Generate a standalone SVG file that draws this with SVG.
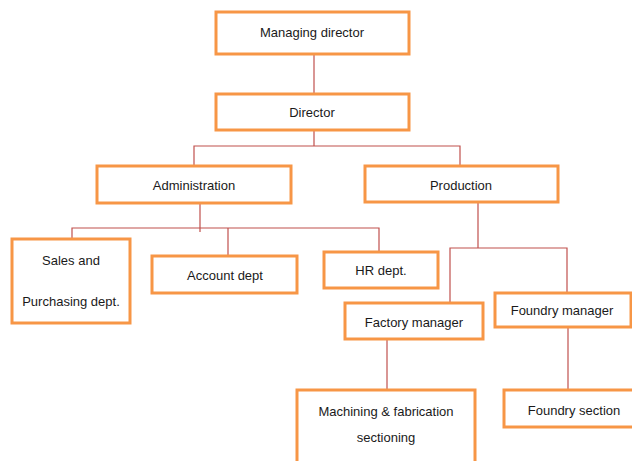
<svg xmlns="http://www.w3.org/2000/svg" width="632" height="461" viewBox="0 0 632 461">
<style>
.box{fill:#fff;stroke:#F79646;stroke-width:3}
.t{font-family:"Liberation Sans",Arial,sans-serif;font-size:13px;fill:#1a1a1a;text-anchor:middle}
.c{fill:none;stroke:#C0504D;stroke-width:1.2}
</style>
<rect width="632" height="461" fill="#fff"/>
<g id="connectors">
<path class="c" d="M314 54V94"/>
<path class="c" d="M314 130V146M194 165V146H460V166"/>
<path class="c" d="M200 203V232M72 240V228H379V252M228 228V256"/>
<path class="c" d="M478 202V248M450 303V248H567V293"/>
<path class="c" d="M387 339V390"/>
<path class="c" d="M568 327V390"/>
</g>
<g id="managing-director"><rect class="box" x="216" y="12" width="193" height="42"/><text class="t" x="312" y="37">Managing director</text></g>
<g id="director"><rect class="box" x="216" y="94" width="193" height="36"/><text class="t" x="312" y="117">Director</text></g>
<g id="administration"><rect class="box" x="97" y="166" width="194" height="37"/><text class="t" x="194" y="190">Administration</text></g>
<g id="production"><rect class="box" x="365" y="166" width="193" height="36"/><text class="t" x="461" y="190">Production</text></g>
<g id="sales"><rect class="box" x="12" y="239" width="118" height="84"/><text class="t" x="71" y="265">Sales and</text><text class="t" x="71" y="306">Purchasing dept.</text></g>
<g id="account"><rect class="box" x="152" y="256" width="145" height="37"/><text class="t" x="225" y="280">Account dept</text></g>
<g id="hr"><rect class="box" x="324" y="252" width="114" height="36"/><text class="t" x="381" y="275">HR dept.</text></g>
<g id="factory-manager"><rect class="box" x="345" y="303" width="138" height="36"/><text class="t" x="414" y="327">Factory manager</text></g>
<g id="foundry-manager"><rect class="box" x="495" y="293" width="136" height="34"/><text class="t" x="562" y="315">Foundry manager</text></g>
<g id="machining"><rect class="box" x="297" y="390" width="178" height="80"/><text class="t" x="386" y="416">Machining &amp; fabrication</text><text class="t" x="386" y="442">sectioning</text></g>
<g id="foundry-section"><rect class="box" x="504" y="390" width="135" height="37"/><text class="t" x="574" y="415">Foundry section</text></g>
</svg>
